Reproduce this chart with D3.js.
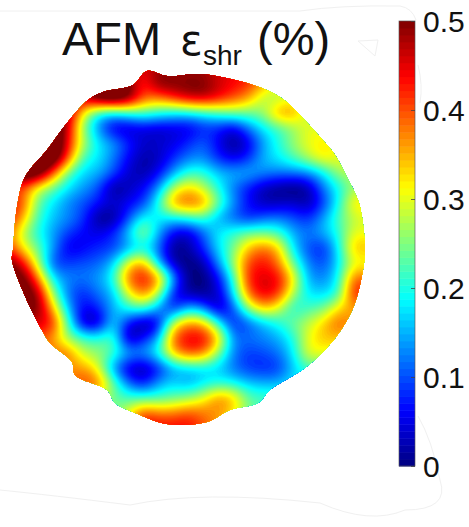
<!DOCTYPE html>
<html><head><meta charset="utf-8">
<style>html,body{margin:0;padding:0;background:#fff;overflow:hidden}svg{display:block;font-family:"Liberation Sans",Arial,sans-serif}</style>
<script src="https://cdn.jsdelivr.net/npm/d3@7"></script></head><body>
<svg id="c" width="469" height="527"></svg>
<script>
const strainRows = [
[50,50,50,50,50,50,50,50,50,45,48,48,48,48,46,44,42,40,35,30,30,30,30,30,30],
[50,50,50,50,50,50,52,54,50,42,50,50,50,50,46,44,42,36,32,30,30,30,30,30,30],
[50,50,50,50,50,46,54,56,52,40,38,42,46,47,44,40,36,28,27,30,30,30,30,30,30],
[50,50,50,54,48,32,20,18,20,22,20,18,18,20,22,24,24,26,36,36,28,28,28,28,28],
[52,52,52,56,46,26,14,5,4,5,4,5,5,8,8,5,12,18,22,26,30,30,30,30,30],
[54,54,56,58,44,28,18,14,8,4,4,5,8,11,6,1,5,14,20,26,30,32,30,30,30],
[54,56,58,56,40,22,18,12,6,2,3,8,12,13,8,5,8,15,18,22,27,32,30,30,30],
[50,56,54,40,24,17,15,10,4,2,6,14,21,21,16,15,15,13,12,12,13,18,26,28,28],
[42,40,30,24,18,14,10,1,3,6,13,27,33,28,20,12,7,3,1,0,2,12,19,26,28],
[44,40,24,18,13,10,7,4,6,9,20,36,39,37,24,14,7,3,3,4,2,9,19,32,32],
[44,35,22,16,13,9,1,1,9,19,18,18,20,22,15,11,8,11,12,10,8,14,22,28,30],
[40,28,20,14,9,6,5,8,16,27,15,6,4,11,18,21,24,24,22,15,12,15,20,30,30],
[42,32,24,14,5,6,8,9,14,18,12,1,2,8,17,24,34,38,34,18,10,8,18,34,34],
[52,44,28,10,9,10,11,16,30,36,16,3,0,2,13,26,40,43,38,24,13,10,17,30,30],
[52,52,38,18,13,12,14,20,38,43,37,14,1,0,6,20,42,45,44,32,15,13,19,38,38],
[52,53,48,26,12,8,12,16,30,38,28,8,2,1,4,17,38,45,42,28,18,17,21,42,42],
[52,52,50,34,16,6,8,15,20,22,15,7,15,12,3,10,26,34,30,20,22,24,32,36,36],
[46,46,46,42,22,4,3,17,7,2,5,28,36,34,20,8,11,16,20,24,28,33,39,36,36],
[42,42,40,36,26,22,20,22,2,7,14,38,44,44,34,13,12,13,15,20,30,34,34,34,34],
[40,40,40,38,38,28,26,22,15,14,20,34,40,38,26,13,9,10,12,18,30,30,30,30,30],
[38,38,38,38,36,36,30,14,4,2,7,15,17,18,17,12,9,8,9,16,22,22,22,22,22],
[36,36,36,36,38,40,38,24,12,7,14,17,15,18,20,19,16,15,15,18,18,18,18,18,18],
[30,30,30,30,32,34,30,24,22,22,22,24,26,30,37,34,24,22,22,22,22,22,22,22,22],
[26,26,26,26,26,26,28,24,30,40,38,38,40,38,36,32,24,22,22,22,22,22,22,22,22],
[26,26,26,26,26,26,28,28,36,44,44,44,44,40,36,32,24,22,22,22,22,22,22,22,22]
];
// Sample boundary, in map units.
const outlineX = [139,159,192,242,272,292,312,327,339,350,354,357,355,347,335,317,297,262,250,222,199,159,125,107,99,67,64,42,35,22,4,5,9,17,39,59,80,95,125];
const outlineY = [3,8,6,16,29,47,69,87,109,132,149,182,202,235,259,282,300,322,335,342,354,356,344,335,322,307,294,275,264,239,192,182,139,109,82,55,32,24,17];
const colorbarTicks = [0,0.1,0.2,0.3,0.4,0.5];
const tickLabels = ["0","0.1","0.2","0.3","0.4","0.5"];
const titleMain = "AFM";
const titleSymbol = "ε";
const titleSub = "shr";
const titleUnit = "(%)";

const svg = d3.select("#c");
const mapSpacing = 15, upsample = 4, levels = 96;
const clamp01 = v => Math.max(0, Math.min(1, v));
const jet = t => `rgb(${[3,2,1].map(k => Math.round(255 * clamp01(1.5 - Math.abs(4 * t - k)))).join(",")})`;
const color = d3.scaleSequential(jet).domain([0, 0.5]).clamp(true);
const xMap = d3.scaleLinear().domain([0, 360]).range([8, 368]);
const yMap = d3.scaleLinear().domain([0, 360]).range([68, 428]);

// Faint scanning residue around the figure
const faint = svg.append("g").attr("fill", "none").attr("stroke", "#f0f0f0").attr("stroke-width", 1);
faint.append("path").attr("d", "M0 11H300Q340 5 400 6Q412 8 416 20");
faint.append("path").attr("d", "M358 41L378 40L375 56Z");
faint.append("path").attr("d", "M418 65Q423 85 420 103");
faint.append("path").attr("d", "M418 416Q432 440 440 480Q450 510 405 510Q370 525 320 503Q200 490 130 505Q50 495 0 490");

// Catmull-Rom refinement of the read samples, then a light smoothing as in the original shading.
const rows = strainRows.length, cols = strainRows[0].length;
const cr = (a, b, c, d, t) => 0.5 * (2 * b + (c - a) * t + (2 * a - 5 * b + 4 * c - d) * t * t + (3 * b - a - 3 * c + d) * t * t * t);
const at = (r, c) => strainRows[Math.max(0, Math.min(rows - 1, r))][Math.max(0, Math.min(cols - 1, c))] / 100;
const W = (cols - 1) * upsample + 1, H = (rows - 1) * upsample + 1;
let fine = new Float64Array(W * H);
for (let j = 0; j < H; j++) {
  const r = Math.floor(j / upsample), tr = j / upsample - r;
  for (let i = 0; i < W; i++) {
    const c = Math.floor(i / upsample), tc = i / upsample - c;
    const col = [-1, 0, 1, 2].map(dr => cr(at(r + dr, c - 1), at(r + dr, c), at(r + dr, c + 1), at(r + dr, c + 2), tc));
    fine[j * W + i] = cr(col[0], col[1], col[2], col[3], tr);
  }
}
for (let pass = 0; pass < 6; pass++) {
  const next = new Float64Array(W * H);
  const idx = (i, j) => Math.max(0, Math.min(H - 1, j)) * W + Math.max(0, Math.min(W - 1, i));
  for (let j = 0; j < H; j++) for (let i = 0; i < W; i++) {
    let s = 0;
    for (let dj = -1; dj <= 1; dj++) for (let di = -1; di <= 1; di++)
      s += (2 - Math.abs(di)) * (2 - Math.abs(dj)) * fine[idx(i + di, j + dj)];
    next[j * W + i] = s / 16;
  }
  fine = next;
}
const thresholds = d3.range(levels).map(i => i === 0 ? -10 : 0.5 * i / levels);
const contours = d3.contours().size([W, H]).smooth(true).thresholds(thresholds)(Array.from(fine));
const project = d3.geoPath(d3.geoTransform({
  point(x, y) {
    this.stream.point(xMap((x - 0.5) * mapSpacing / upsample), yMap((y - 0.5) * mapSpacing / upsample));
  }
}));

const outline = d3.line().x(i => xMap(outlineX[i])).y(i => yMap(outlineY[i])).curve(d3.curveCatmullRomClosed.alpha(0.5));
svg.append("clipPath").attr("id", "disc").append("path").attr("d", outline(d3.range(outlineX.length)));
svg.append("g").attr("clip-path", "url(#disc)")
  .selectAll("path").data(contours).join("path")
  .attr("d", project)
  .attr("fill", (d, i) => color(i === 0 ? 0 : d.value + 0.5 / levels / 2));

// Colour bar
const yBar = d3.scaleLinear().domain([0, 0.5]).range([466, 21]);
const barLevels = d3.range(64);
svg.append("g").selectAll("rect").data(barLevels).join("rect")
  .attr("x", 399).attr("width", 16)
  .attr("y", i => yBar((i + 1) / 64 * 0.5))
  .attr("height", i => yBar(i / 64 * 0.5) - yBar((i + 1) / 64 * 0.5) + 0.5)
  .attr("fill", i => color((i + 0.5) / 64 * 0.5));
svg.append("rect").attr("x", 399).attr("y", 21).attr("width", 16).attr("height", 445)
  .attr("fill", "none").attr("stroke", "#555").attr("stroke-width", 0.8).attr("opacity", 0.8);
const axis = d3.axisRight(yBar).tickValues(colorbarTicks).tickFormat((d, i) => tickLabels[i]).tickSizeInner(-4).tickSizeOuter(0);
const ax = svg.append("g").attr("transform", "translate(415,0)").call(axis);
ax.select(".domain").remove();
ax.selectAll("line").attr("stroke", "#444").attr("stroke-width", 0.8);
ax.selectAll("text").attr("x", 8).attr("fill", "#111").attr("font-size", 30).attr("dy", "0.35em");

// Title
const title = svg.append("text").attr("y", 55).attr("fill", "#111").attr("font-size", 47);
title.append("tspan").attr("x", 62).text(titleMain);
title.append("tspan").attr("x", 180).attr("font-family", "'DejaVu Sans'").attr("font-size", 42).text(titleSymbol);
title.append("tspan").attr("x", 203).attr("y", 65).attr("font-size", 28).text(titleSub);
title.append("tspan").attr("x", 257).attr("y", 55).attr("font-size", 47).text(titleUnit);
</script></body></html>
